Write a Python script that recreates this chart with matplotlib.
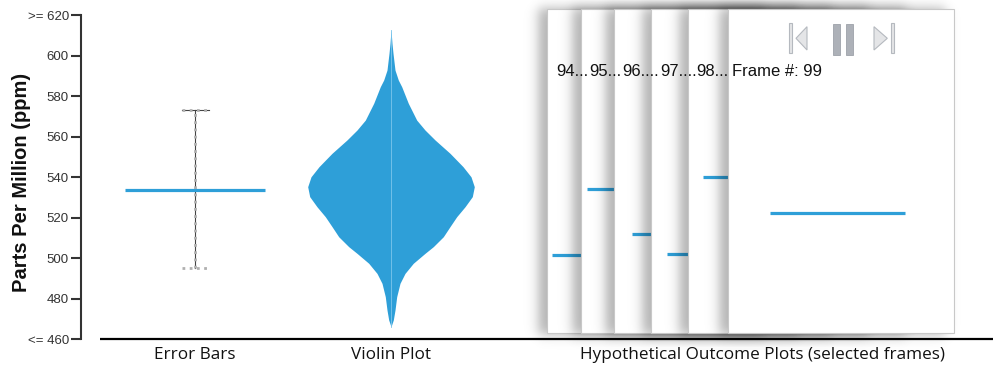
import numpy as np
import matplotlib
matplotlib.use('Agg')
import matplotlib.pyplot as plt
from matplotlib.patches import Rectangle, Polygon

# ─── Data ──────────────────────────────────────────────────────────────────────
Y_TICKS = [460, 480, 500, 520, 540, 560, 580, 600, 620]
Y_TICK_LABELS = ['<= 460', '480', '500', '520', '540', '560', '580', '600', '>= 620']
CATEGORIES = ['Error Bars', 'Violin Plot', 'Hypothetical Outcome Plots (selected frames)']

ERR_MEAN = 533.5
ERR_LOW = 495.0
ERR_HIGH = 573.0

# violin outline: ppm value and half-width (density, px)
VIOLIN_Y = [466.1, 469.4, 474.3, 480.9, 487.5, 492.4, 497.4, 502.3, 505.6, 510.5,
            515.5, 520.4, 525.3, 530.3, 535.2, 540.1, 545.1, 551.7, 558.3, 563.2,
            568.1, 576.4, 584.6, 587.9, 592.8, 601.1, 606.0, 612.6]
VIOLIN_W = [0.0, 2.3, 4.0, 5.7, 9.0, 14.0, 22.3, 34.0, 42.3, 52.3,
            59.0, 65.7, 74.0, 81.3, 83.3, 80.0, 72.0, 59.0, 44.0, 34.0,
            25.7, 17.3, 10.7, 7.3, 4.0, 2.0, 1.0, 0.0]

FRAME_IDS = [94, 95, 96, 97, 98, 99]
FRAME_VALUES = [501.5, 534.2, 511.7, 502.0, 540.1, 522.0]
FRAME_LABELS = ['94...', '95...', '96....', '97....', '98...', 'Frame #: 99']

# ─── Layout (pixel units on a 1000 x 366 canvas) ──────────────────────────────
W, H = 1000, 366
ROW_LO, ROW_HI = 339.0, 15.0          # rows of 460 and 620
K = (ROW_LO - ROW_HI) / 160.0          # px per ppm


def row(r):
    return 460 + (ROW_LO - r) / K


BLUE = '#2e9fd8'
AXIS_X = 81
X_ERR, X_VIO, X_HOP = 195, 391, 762

CARD_LEFT = [547.3, 580.7, 614.3, 651.0, 687.7, 727.7]
CARD_W = 226.6
CARD_TOP, CARD_BOT = 8.5, 332.5
LINE_START = [5, 6, 18, 16, 15, 42]
LINE_END = 177
TEXT_X = [556.5, 589, 622, 660, 696.5, 731.5]

plt.rcParams['font.family'] = ['Liberation Sans', 'DejaVu Sans']

fig = plt.figure(figsize=(W / 100, H / 100), dpi=100)
ax = fig.add_axes([0, 0, 1, 1])
ax.set_facecolor('white')

# ─── Y axis ────────────────────────────────────────────────────────────────────
for s in ['top', 'right', 'bottom']:
    ax.spines[s].set_visible(False)
ax.spines['left'].set_position(('data', AXIS_X))
ax.spines['left'].set_bounds(460, 620)
ax.spines['left'].set_color('#333333')
ax.spines['left'].set_linewidth(1.5)
ax.spines['left'].set_zorder(50)
ax.set_xticks([])
ax.set_yticks(Y_TICKS)
ax.set_yticklabels(Y_TICK_LABELS, family=['Liberation Sans Narrow', 'Liberation Sans'],
                   fontsize=9.5, color='#333333')
ax.tick_params(axis='y', length=7.5, width=1.5, color='#333333', pad=1.2)
ax.text(22, row(182), 'Parts Per Million (ppm)', rotation=90, ha='center', va='center',
        fontsize=14.5, fontweight='bold', color='#111111')

# baseline
ax.plot([100, 993], [460, 460], color='black', lw=1.6, zorder=60, solid_capstyle='butt')

# category labels
for x, lab in zip([X_ERR, X_VIO, X_HOP], CATEGORIES):
    ax.text(x, row(355), lab, ha='center', va='center', fontsize=12.3,
            family=['Open Sans', 'DejaVu Sans'], color='#111111')

# ─── Error bars ───────────────────────────────────────────────────────────────
ax.plot([X_ERR, X_ERR], [ERR_LOW, ERR_HIGH], color='#444444', lw=0.8, zorder=3)
ax.plot([X_ERR, X_ERR], [ERR_LOW, ERR_HIGH], color='#b0b0b0', lw=2.0,
        linestyle=(0, (1, 1.6)), zorder=4)
ax.plot([X_ERR - 13.5, X_ERR + 13.5], [ERR_HIGH, ERR_HIGH], color='#444444', lw=0.8, zorder=3)
for yv in (ERR_HIGH, ERR_LOW):
    ax.plot([X_ERR - 13.5, X_ERR + 13.5], [yv, yv], color='#b0b0b0', lw=2.0,
            linestyle=(0, (1, 1.6)), zorder=4)
ax.plot([X_ERR - 70, X_ERR + 70], [ERR_MEAN, ERR_MEAN], color=BLUE, lw=2.3, zorder=5,
        solid_capstyle='butt')

# ─── Violin ───────────────────────────────────────────────────────────────────
vy = np.array(VIOLIN_Y)
vw = np.array(VIOLIN_W)
ax.fill_betweenx(vy, X_VIO - vw, X_VIO + vw, color=BLUE, lw=0, zorder=3)
ax.plot([X_VIO, X_VIO], [vy[0], vy[-1]], color='#7cc6ec', lw=0.6, zorder=4)


# ─── Hypothetical outcome plot frames ─────────────────────────────────────────
def shadow(x0, x1, z, dx=-9, s=7.0, alpha=0.30):
    pad = 30
    xs = np.linspace(x0 - pad, x1 + pad, 300)
    rs = np.linspace(CARD_TOP - pad, CARD_BOT + pad, 300)
    sx = 0.5 * (np.tanh((xs - (x0 + dx)) / s) - np.tanh((xs - (x1 + dx)) / s))
    sy = 0.5 * (np.tanh((rs - CARD_TOP + 1) / s) - np.tanh((rs - CARD_BOT - 2) / s))
    img = np.zeros((len(rs), len(xs), 4))
    img[..., 3] = np.outer(sy, sx) * alpha
    ax.imshow(img, extent=(xs[0], xs[-1], row(rs[-1]), row(rs[0])), origin='upper',
              aspect='auto', interpolation='bilinear', zorder=z)


for i, (left, val) in enumerate(zip(CARD_LEFT, FRAME_VALUES)):
    z = 10 + i * 3
    shadow(left, left + CARD_W, z)
    ax.add_patch(Rectangle((left, row(CARD_BOT)), CARD_W, row(CARD_TOP) - row(CARD_BOT),
                           facecolor='white', edgecolor='#c8c8c8', lw=0.8, zorder=z + 1))
    ax.plot([left + LINE_START[i], left + LINE_END], [val, val], color=BLUE, lw=2.3,
            zorder=z + 2, solid_capstyle='butt')

# frame numbers sit on top of the whole stack
for tx, lab in zip(TEXT_X, FRAME_LABELS):
    ax.text(tx, row(71.5), lab, ha='left', va='center', fontsize=12,
            color='#111111', zorder=40)

# playback controls on the top frame
zc = 10 + (len(FRAME_IDS) - 1) * 3 + 2
btn_edge, btn_face, pause_face = '#b5b9bf', '#e4e5e7', '#adb1b8'
ax.add_patch(Rectangle((789, row(53.3)), 3, row(23.3) - row(53.3), facecolor=btn_face,
                       edgecolor=btn_edge, lw=0.8, zorder=zc))
ax.add_patch(Polygon([(796, row(38.3)), (807, row(26.7)), (807, row(50))], closed=True,
                     facecolor=btn_face, edgecolor=btn_edge, lw=0.8, zorder=zc))
for bx in (833.3, 846):
    ax.add_patch(Rectangle((bx, row(55)), 6.7, row(24.3) - row(55), facecolor=pause_face,
                           edgecolor='#9ea2a9', lw=0.6, zorder=zc))
ax.add_patch(Polygon([(874, row(26.7)), (887.3, row(38.3)), (874, row(50))], closed=True,
                     facecolor=btn_face, edgecolor=btn_edge, lw=0.8, zorder=zc))
ax.add_patch(Rectangle((890.5, row(53.3)), 3, row(23.3) - row(53.3), facecolor=btn_face,
                       edgecolor=btn_edge, lw=0.8, zorder=zc))

ax.set_xlim(0, W)
ax.set_ylim(row(H), row(0))

fig.savefig('out.png', dpi=100)
